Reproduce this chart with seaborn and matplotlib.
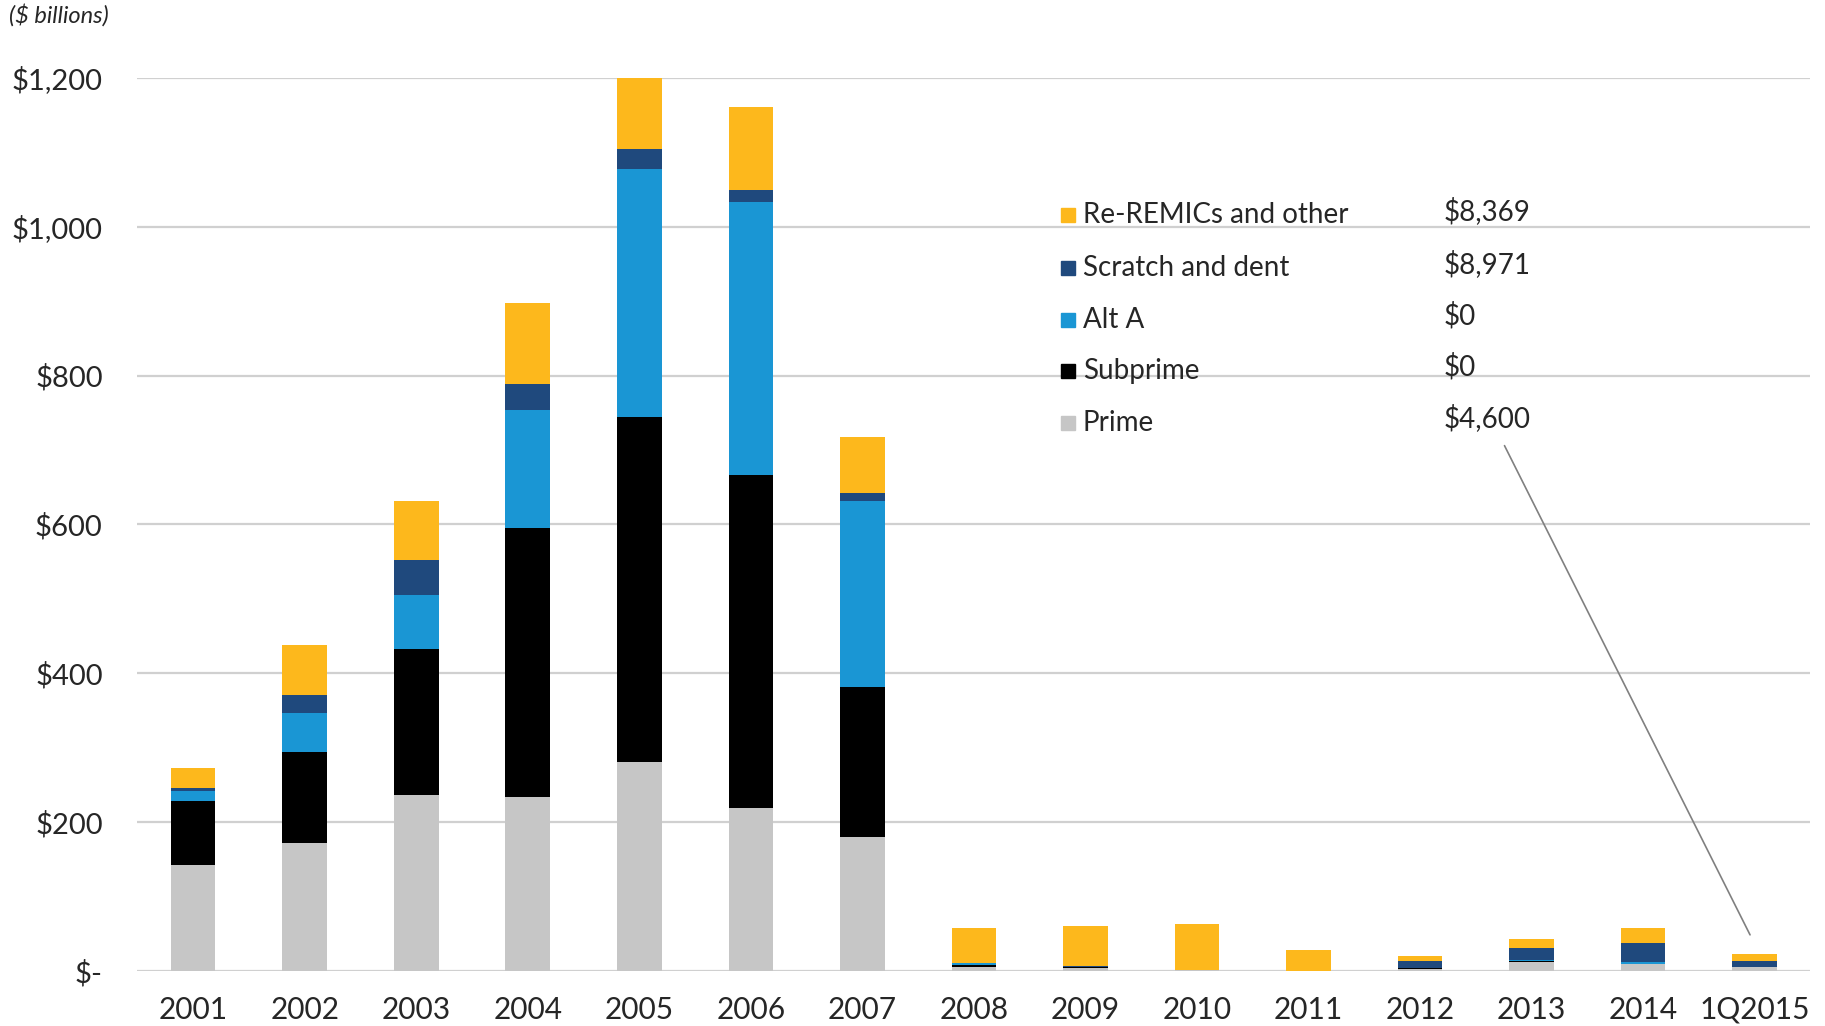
import numpy as np
import pandas as pd
import seaborn as sns
import matplotlib.pyplot as plt

years = ['2001', '2002', '2003', '2004', '2005', '2006', '2007', '2008',
         '2009', '2010', '2011', '2012', '2013', '2014', '1Q2015']
prime = [142, 172, 236, 233, 280, 219, 180, 5, 4, 0.5, 0.3, 2, 12, 8.5, 4.6]
subprime = [86, 122, 196, 362, 465, 448, 202, 2.5, 0.5, 0, 0, 1.5, 1.5, 0.5, 0]
alt_a = [13, 53, 73, 159, 333, 366, 250, 2.5, 0.3, 0, 0, 0.3, 0.5, 3.5, 0]
scratch = [5, 24, 47, 35, 27, 16, 10, 1, 1, 0, 0, 9, 16, 25, 8.971]
reremics = [26, 67, 80, 109, 95, 112, 75, 47, 54, 62, 27, 7, 13, 20, 8.369]

series = ['Prime', 'Subprime', 'Alt A', 'Scratch and dent', 'Re-REMICs and other']
colors = {'Prime': '#C6C6C6', 'Subprime': '#000000', 'Alt A': '#1A96D4',
          'Scratch and dent': '#1F497D', 'Re-REMICs and other': '#FDB81C'}
legend_values = {'Re-REMICs and other': '$8,369', 'Scratch and dent': '$8,971',
                 'Alt A': '$0', 'Subprime': '$0', 'Prime': '$4,600'}

df = pd.DataFrame({'year': years, 'Prime': prime, 'Subprime': subprime,
                   'Alt A': alt_a, 'Scratch and dent': scratch,
                   'Re-REMICs and other': reremics})
cum = df[series].cumsum(axis=1)
cum['year'] = df['year']

sns.set_style('white')
plt.rcParams['font.family'] = ['Lato', 'DejaVu Sans']
plt.rcParams['text.parse_math'] = False

fig = plt.figure(figsize=(18.25, 10.26), dpi=100)
ax = fig.add_axes([0.0753, 0.0538, 0.9167, 0.8702])

# stacked bars: draw cumulative totals from the top layer down
for s in series[::-1]:
    sns.barplot(data=cum, x='year', y=s, color=colors[s], width=0.4,
                saturation=1, linewidth=0, ax=ax, zorder=3)

ax.set_ylim(0, 1200)
ax.set_xlim(-0.5, 14.5)
ax.set_yticks([0, 200, 400, 600, 800, 1000, 1200])
ax.set_yticklabels(['$-', '$200', '$400', '$600', '$800', '$1,000', '$1,200'])
ax.yaxis.grid(True, color='#D0D0D0', lw=1.6, zorder=0)
ax.set_axisbelow(True)
for sp in ax.spines.values():
    sp.set_visible(False)
ax.tick_params(axis='y', length=0, pad=25, labelsize=21)
ax.tick_params(axis='x', length=0, pad=18, labelsize=21.5)
ax.set_xlabel('')
ax.set_ylabel('')

fig.text(0.005, 0.985, '($ billions)', fontsize=17, style='italic', va='center')

# legend with values
rows_y = [0.846, 0.787, 0.729, 0.672, 0.614]
for s, yy in zip(series[::-1], rows_y):
    ax.plot([0.556], [yy], marker='s', ms=10.5, color=colors[s],
            transform=ax.transAxes, clip_on=False, ls='none')
    ax.text(0.565, yy, s, transform=ax.transAxes, fontsize=20, va='center')
    ax.text(0.7806, yy + 0.005, legend_values[s], transform=ax.transAxes,
            fontsize=20, va='center')

ax.annotate('', xy=(13.97, 45), xytext=(0.8164, 0.591),
            textcoords='axes fraction',
            arrowprops=dict(arrowstyle='-', color='#808080', lw=1.2))

fig.savefig('out.png', dpi=100)
